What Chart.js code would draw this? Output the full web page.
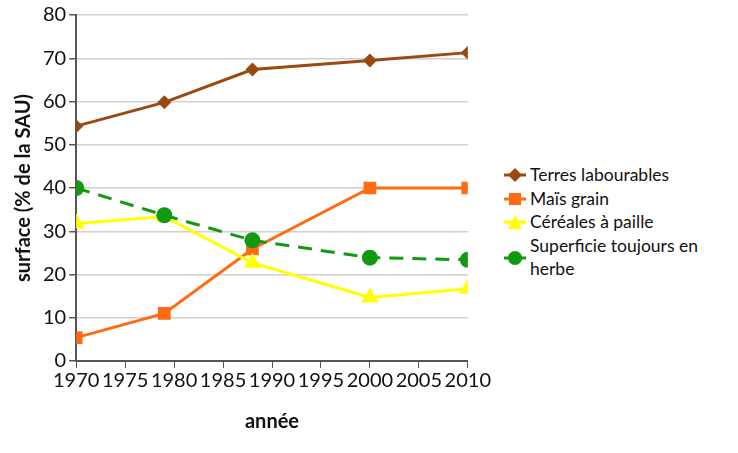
<!DOCTYPE html>
<html lang="fr">
<head>
<meta charset="UTF-8">
<title>Surface (% de la SAU)</title>
<script src="https://cdn.jsdelivr.net/npm/chart.js"></script>
<style>
  body { margin: 0; background: #fff; font-family: Lato, sans-serif; }
  #wrap { position: relative; width: 738px; height: 453px; }
  #box { position: absolute; left: 0; top: 0; width: 492px; height: 453px; }
  #legend { position: absolute; left: 504px; top: 163px; width: 230px; font-size: 17.5px; color: #111; }
  #legend div { display: flex; align-items: flex-start; line-height: 23.5px; }
  #legend svg { flex: none; margin-top: 4px; margin-right: 4px; }
</style>
</head>
<body>
<div id="wrap">
  <div id="box"><canvas id="c"></canvas></div>
  <div id="legend"></div>
</div>
<script>
// données
const years = [1970, 1979, 1988, 2000, 2010];
const terres = [54.3, 59.8, 67.4, 69.5, 71.3];
const mais = [5.4, 11.0, 25.9, 40.0, 40.0];
const cereales = [31.8, 33.4, 22.7, 14.7, 16.7];
const herbe = [40.0, 33.7, 27.9, 23.9, 23.4];
const xTicks = [1970, 1975, 1980, 1985, 1990, 1995, 2000, 2005, 2010];

function pts(vals) {
  return vals.map((v, i) => ({ x: years[i], y: v }));
}

const series = [
  { label: 'Terres labourables', data: terres, color: '#9a4a10', style: 'rectRot', r: 7, dash: [] },
  { label: 'Maïs grain', data: mais, color: '#ff6a13', style: 'rect', r: 9, dash: [] },
  { label: 'Céréales à paille', data: cereales, color: '#ffff00', style: 'triangle', r: 10, dash: [] },
  { label: 'Superficie toujours en herbe', data: herbe, color: '#119911', style: 'circle', r: 8, dash: [14, 9] }
];

new Chart(document.getElementById('c'), {
  type: 'line',
  data: {
    datasets: series.map(s => ({
      label: s.label,
      data: pts(s.data),
      borderColor: s.color,
      backgroundColor: s.color,
      borderWidth: 3,
      borderDash: s.dash,
      pointStyle: s.style,
      pointRadius: s.r,
      pointBorderWidth: 0,
      tension: 0
    })).reverse()
  },
  options: {
    responsive: true,
    maintainAspectRatio: false,
    animation: false,
    layout: { padding: { top: 6, right: 0, left: 8, bottom: 15 } },
    plugins: { legend: { display: false }, tooltip: { enabled: false } },
    scales: {
      x: {
        type: 'linear', min: 1970, max: 2010,
        afterBuildTicks: ax => { ax.ticks = xTicks.map(v => ({ value: v })); },
        grid: { display: true, drawOnChartArea: false, drawTicks: true, tickLength: 7, color: '#555' },
        border: { color: '#555', width: 2 },
        ticks: { color: '#111', font: { family: 'Lato', size: 20 }, padding: 1, maxRotation: 0, autoSkip: false,
                 callback: v => String(v) },
        title: { display: true, text: 'année', color: '#111', font: { family: 'Lato', size: 20, weight: 'bold' }, padding: { top: 16 } }
      },
      y: {
        min: 0, max: 80,
        ticks: { stepSize: 10, color: '#111', font: { family: 'Lato', size: 20 }, padding: 3 },
        grid: { color: '#d0d0d0', lineWidth: 1.5, tickLength: 7, tickColor: '#555' },
        border: { color: '#555', width: 2 },
        title: { display: true, text: 'surface (% de la SAU)', color: '#111', font: { family: 'Lato', size: 20, weight: 'bold' }, padding: { bottom: 4 } }
      }
    }
  }
});

// légende HTML
const shapes = {
  rectRot: c => `<polygon points="8,1 15,8 8,15 1,8" fill="${c}"/>`,
  rect: c => `<rect x="2" y="2" width="12" height="12" fill="${c}"/>`,
  triangle: c => `<polygon points="8,1 15,15 1,15" fill="${c}"/>`,
  circle: c => `<circle cx="8" cy="8" r="7" fill="${c}"/>`
};
const leg = document.getElementById('legend');
series.forEach(s => {
  const row = document.createElement('div');
  const line = `<line x1="-3" y1="8" x2="19" y2="8" stroke="${s.color}" stroke-width="3"/>`;
  row.innerHTML = `<svg width="22" height="16" viewBox="-3 0 22 16">${line}${shapes[s.style](s.color)}</svg><span>${s.label}</span>`;
  if (s.style === 'circle') row.querySelector('svg').style.marginTop = '16px';
  leg.appendChild(row);
});
</script>
</body>
</html>
